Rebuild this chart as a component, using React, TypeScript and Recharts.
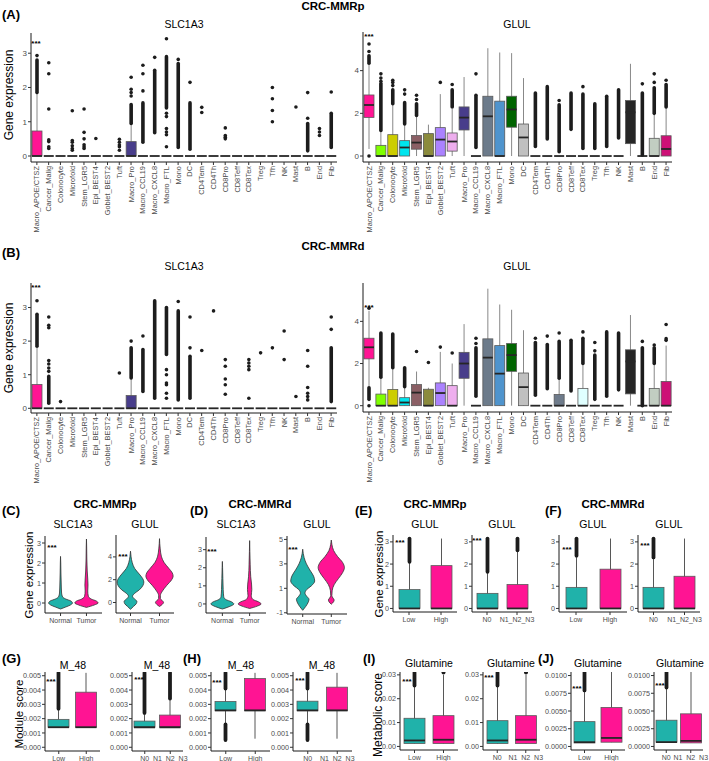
import React from 'react';
import { ComposedChart, Bar, Area, XAxis, YAxis } from 'recharts';

// ---------- data ----------
const cellTypes = ['Macro_APOE/CTSZ', 'Cancer_Malig', 'Colonocyte', 'Microfold', 'Stem_LGR5', 'Epi_BEST4', 'Goblet_BEST2', 'Tuft', 'Macro_Pro', 'Macro_CCL19', 'Macro_CXCL8', 'Macro_FTL', 'Mono', 'DC', 'CD4Tem', 'CD4Th', 'CD8Pro', 'CD8Teff', 'CD8Tex', 'Treg', 'Tfh', 'NK', 'Mast', 'B', 'End', 'Fib'];
const cellColors = ['#FF1493', '#7FFF00', '#CDCD00', '#00E5EE', '#8B5F65', '#8B8B3D', '#AB82FF', '#EEAEEE', '#483D8B', '#8DB6CD', '#6C7B8B', '#4F94CD', '#006400', '#C0C0C0', '#B0C4DE', '#9FB6CD', '#6E7B8B', '#CAE1FF', '#E0FFFF', '#A2B5CD', '#BCD2EE', '#7EC0EE', '#262626', '#778899', '#C1CDC1', '#CD1076'];

// [q1, median, q3, whisker low, whisker high]
type Stat = [number, number, number, number, number];
const Z: Stat = [0, 0, 0, 0, 0];

// (A) SLC1A3, CRC-MMRp
const slcMMRpStats: Stat[] = [[0, 0, 0.73, 0, 1.8], Z, Z, Z, Z, Z, Z, Z, [0, 0, 0.42, 0, 0.95], Z, Z, Z, Z, Z, Z, Z, Z, Z, Z, Z, Z, Z, Z, Z, Z, Z];
const slcMMRpDense = [[[1.85, 2.8]], [], [], [], [], [], [], [], [[0.95, 1.5]], [[0.4, 1.55]], [[0.68, 2.5]], [[1.4, 2.9]], [[0.25, 2.7]], [[0.2, 1.55]], [], [], [], [], [], [], [], [], [], [[0.15, 0.95]], [], [[0.25, 1.25]]];
const slcMMRpPts = [[2.93], [2.72, 2.4, 1.37, 0.47, 0.42, 0.27, 0.22], [], [1.32, 0.45, 0.4, 0.3, 0.22, 0.17], [1.37, 0.69, 0.5, 0.33, 0.27, 0.22], [0.51], [], [0.49, 0.4, 0.32, 0.27, 0.17], [1.75, 1.85, 1.95, 2.3], [1.9, 2.4, 2.65], [2.88], [0.27, 0.62, 0.7, 0.8, 1.15, 1.25, 3.42], [2.82], [2.15], [1.27, 1.42], [], [0.5, 0.55, 0.6, 0.82], [], [], [], [1.0, 1.33, 1.67, 2.0], [], [1.43], [1.1, 1.85], [0.6, 0.7, 0.8], [1.87]];

// (A) GLUL, CRC-MMRp
const glulMMRpStats: Stat[] = [[1.81, 2.39, 2.86, 0.33, 4.3], [0, 0, 0.5, 0, 1.2], [0, 0, 1.0, 0, 2.4], [0, 0.4, 0.72, 0, 1.5], [0.32, 0.63, 0.96, 0, 1.9], [0, 0, 1.05, 0, 1.47], [0, 0.77, 1.33, 0, 2.9], [0.23, 0.68, 1.08, 0, 2.2], [1.22, 1.8, 2.3, 0, 3.7], Z, [0, 1.86, 2.8, 0, 5.05], [0, 0, 2.57, 0, 4.85], [1.35, 2.18, 2.8, 0, 4.82], [0, 0.87, 1.5, 0, 3.65], Z, Z, Z, Z, Z, Z, Z, Z, [0.58, 2.05, 2.6, 0, 4.32], Z, [0, 0, 0.83, 0, 2.0], [0, 0.33, 0.95, 0, 2.3]];
const glulMMRpDense = [[[4.35, 4.7]], [[1.2, 3.4]], [[2.45, 3.1]], [[1.5, 2.5]], [[1.9, 2.45]], [], [], [[2.3, 3.1]], [], [[0.4, 2.85]], [], [], [], [], [[0.45, 2.95]], [[0.8, 3.25]], [[0.2, 2.4]], [[1.25, 2.95]], [[0.35, 2.9]], [[0.35, 2.45]], [[0.45, 2.8]], [[0.85, 3.1]], [], [[0.05, 2.95]], [[2.0, 3.2]], [[2.3, 3.35]]];
const glulMMRpPts = [[0, 4.9, 5.25], [3.5, 3.65, 3.85], [3.3, 3.45, 3.55], [2.9, 3.1], [2.65, 2.85], [], [3.45], [3.35], [], [3.85], [], [], [], [], [], [], [2.6], [], [3.25], [], [], [], [], [3.38], [3.45, 3.85], [3.55]];

// (B) SLC1A3, CRC-MMRd
const slcMMRdStats: Stat[] = [[0, 0, 0.71, 0, 1.8], Z, Z, Z, Z, Z, Z, Z, [0, 0, 0.38, 0, 0.9], Z, Z, Z, Z, Z, Z, Z, Z, Z, Z, Z, Z, Z, Z, Z, Z, Z];
const slcMMRdDense = [[[1.85, 2.8]], [[0.15, 0.95]], [], [], [], [], [], [], [[0.9, 1.8]], [[0.5, 1.75]], [[0.3, 3.2]], [[1.6, 3.0]], [[0.25, 2.9]], [[0.3, 1.55]], [], [], [], [], [], [], [], [], [], [], [], [[0.2, 1.8]]];
const slcMMRdPts = [[3.2], [1.1, 1.2, 1.32, 1.42, 2.4, 2.47, 2.72], [0.2], [], [], [], [], [1.05], [2.0], [2.15], [], [0.3, 0.45, 0.7, 0.75, 1.0, 1.15], [3.18], [1.8, 2.72], [1.72], [2.9], [0.42, 0.7, 0.87, 1.25, 1.45], [], [0.3, 1.15, 1.25, 1.35, 1.45], [1.65], [1.8], [1.45, 2.3], [0.35], [0.25, 0.35, 0.45, 0.62, 1.25, 1.72], [], [2.35, 2.72]];

// (B) GLUL, CRC-MMRd
const glulMMRdStats: Stat[] = [[2.22, 2.77, 3.2, 0.9, 4.5], [0, 0, 0.55, 0, 1.35], [0, 0, 0.77, 0, 1.8], [0, 0.15, 0.38, 0, 0.9], [0, 0.62, 1.0, 0, 1.62], [0, 0, 0.78, 0, 0.85], [0, 0.6, 1.08, 0, 2.55], [0, 0, 0.95, 0, 2.0], [1.3, 2.0, 2.53, 0, 3.87], Z, [0, 2.28, 3.17, 0, 5.55], [0, 1.52, 2.85, 0, 4.8], [1.63, 2.4, 2.95, 0, 4.55], [0, 0.88, 1.55, 0, 3.58], Z, Z, [0, 0, 0.53, 0, 1.3], Z, [0, 0, 0.82, 0, 2.0], Z, Z, Z, [0.56, 2.1, 2.65, 0, 4.3], Z, [0, 0, 0.82, 0, 2.0], [0, 0, 1.15, 0, 2.85]];
const glulMMRdDense = [[[0.3, 0.85]], [[1.35, 3.45]], [[1.8, 3.4]], [[0.9, 1.8]], [], [], [], [], [], [[0.45, 2.75]], [], [], [], [], [[0.5, 3.0]], [[0.8, 2.9]], [[1.3, 3.05]], [[0.7, 3.1]], [[2.0, 3.2]], [[0.3, 2.4]], [[0.45, 3.5]], [[0.75, 3.45]], [], [[0.0, 2.75]], [[2.0, 2.75]], []];
const glulMMRdPts = [[0, 4.62], [], [], [], [2.57], [2.05], [2.78], [2.5], [], [2.95, 3.2], [], [], [], [], [3.2], [3.3], [3.45], [], [3.5], [2.6, 3.0], [], [], [], [3.05], [2.88], [3.1, 3.18, 3.85]];

// (C)/(D) violins: [expression, half width]
const slcMMRpNormal = [[-0.3, 0], [-0.2, 0.2], [-0.1, 0.38], [0, 0.46], [0.1, 0.4], [0.2, 0.2], [0.3, 0.08], [0.5, 0.04], [1.0, 0.025], [1.5, 0.015], [2.0, 0.008], [2.33, 0]];
const slcMMRpTumor = [[-0.22, 0], [-0.1, 0.3], [0, 0.45], [0.1, 0.38], [0.2, 0.18], [0.35, 0.07], [0.6, 0.05], [0.9, 0.06], [1.2, 0.05], [1.6, 0.03], [2.2, 0.015], [2.8, 0.008], [3.2, 0]];
const glulMMRpNormal = [[-0.6, 0], [-0.35, 0.1], [-0.1, 0.2], [0.1, 0.22], [0.3, 0.14], [0.55, 0.07], [0.8, 0.14], [1.1, 0.3], [1.5, 0.43], [1.8, 0.46], [2.1, 0.42], [2.5, 0.3], [3.0, 0.14], [3.5, 0.06], [4.0, 0.02], [4.5, 0]];
const glulMMRpTumor = [[-0.35, 0], [-0.15, 0.1], [0, 0.14], [0.15, 0.1], [0.35, 0.03], [0.6, 0.03], [1.0, 0.1], [1.5, 0.25], [2.0, 0.42], [2.3, 0.47], [2.6, 0.44], [3.0, 0.32], [3.5, 0.16], [4.0, 0.07], [4.7, 0.025], [5.6, 0]];
const slcMMRdNormal = [[-0.28, 0], [-0.15, 0.25], [0, 0.42], [0.12, 0.33], [0.25, 0.12], [0.4, 0.05], [0.8, 0.03], [1.4, 0.018], [2.0, 0.008], [2.35, 0]];
const slcMMRdTumor = [[-0.25, 0], [-0.12, 0.28], [0, 0.42], [0.12, 0.32], [0.25, 0.12], [0.45, 0.06], [0.8, 0.08], [1.1, 0.07], [1.5, 0.04], [2.2, 0.02], [2.9, 0.008], [3.5, 0]];
const glulMMRdNormal = [[-0.8, 0], [-0.5, 0.1], [-0.2, 0.18], [0.1, 0.22], [0.35, 0.14], [0.6, 0.08], [0.9, 0.14], [1.2, 0.3], [1.6, 0.42], [2.0, 0.38], [2.5, 0.25], [3.0, 0.13], [3.5, 0.05], [4.2, 0]];
const glulMMRdTumor = [[-0.3, 0], [-0.1, 0.08], [0.05, 0.1], [0.2, 0.06], [0.4, 0.02], [0.8, 0.03], [1.3, 0.1], [1.8, 0.25], [2.3, 0.4], [2.7, 0.46], [3.1, 0.4], [3.6, 0.22], [4.1, 0.08], [4.6, 0.02], [4.95, 0]];
const violinGroups = ['Normal', 'Tumor'];

// (E)-(J) groups
const lowHigh = ['Low', 'High'];
const nStage = ['N0', 'N1_N2_N3'];
const groupColors = ['#20B2AA', '#FF1493'];

const glulPRiskStats: Stat[] = [[0, 0, 0.85, 0, 2.1], [0, 0, 1.93, 0, 3.15]];
const glulPRiskDense = [[[2.1, 3.15]], []];
const glulPStageStats: Stat[] = [[0, 0, 0.68, 0, 1.65], [0, 0, 1.08, 0, 2.62]];
const glulPStageDense = [[[1.65, 3.15]], [[2.62, 3.15]]];
const glulDRiskStats: Stat[] = [[0, 0, 0.95, 0, 2.38], [0, 0, 1.77, 0, 3.15]];
const glulDRiskDense = [[[2.38, 3.15]], []];
const glulDStageStats: Stat[] = [[0, 0, 0.95, 0, 2.3], [0, 0, 1.45, 0, 3.15]];
const glulDStageDense = [[[2.3, 3.15]], []];

const m48PRiskStats: Stat[] = [[0.0014, 0.0014, 0.00195, 0.0014, 0.0027], [0.0014, 0.0014, 0.00385, 0.0014, 0.0052]];
const m48PRiskDense = [[[0.0027, 0.0052]], []];
const m48PStageStats: Stat[] = [[0.0014, 0.0014, 0.00183, 0.0014, 0.0024], [0.0014, 0.0014, 0.00225, 0.0014, 0.0034]];
const m48PStageDense = [[[0.0024, 0.0052]], [[0.0034, 0.0052]]];
const m48DRiskStats: Stat[] = [[0.00255, 0.00258, 0.0032, 0.0016, 0.0041], [0.00255, 0.00258, 0.0048, 0.0006, 0.0052]];
const m48DRiskDense = [[[0.0005, 0.0016], [0.0041, 0.0052]], []];
const m48DStageStats: Stat[] = [[0.00255, 0.00258, 0.00322, 0.0016, 0.0041], [0.00255, 0.00258, 0.0042, 0.0006, 0.0052]];
const m48DStageDense = [[[0.0005, 0.0016], [0.0041, 0.0052]], []];

const glnPRiskStats: Stat[] = [[0.0012, 0.0025, 0.0118, 0.0012, 0.025], [0.0012, 0.0028, 0.0129, 0.0012, 0.03]];
const glnPStageStats: Stat[] = [[0.0012, 0.0025, 0.0108, 0.0012, 0.025], [0.0012, 0.0028, 0.0129, 0.0012, 0.03]];
const glnPDense = [[[0.0255, 0.031]], []];
const glnPPts = [[], [0.031]];
const glnDRiskStats: Stat[] = [[0.0005, 0.0006, 0.0035, 0.0005, 0.0079], [0.0006, 0.0012, 0.0055, 0.0006, 0.0105]];
const glnDRiskDense = [[[0.0079, 0.0105]], []];
const glnDStageStats: Stat[] = [[0.0006, 0.0006, 0.0037, 0.0006, 0.0083], [0.0005, 0.0008, 0.0046, 0.0005, 0.0105]];
const glnDStageDense = [[[0.0083, 0.0105]], []];

const ticksA = [0, 1, 2, 3];
const ticksGlul = [0, 2, 4];
const ticksD2 = [-1, 0, 1, 2, 3, 4, 5];
const ticksM48 = [0, 0.001, 0.002, 0.003, 0.004, 0.005];
const ticksGlnP = [0, 0.01, 0.02, 0.03];
const ticksGlnD = [0, 0.0025, 0.005, 0.0075, 0.01];

// ---------- drawing helpers ----------
const MT = 6;
const MR = 14;
const AX = '#1a1a1a';
const TXT = '#4d4d4d';

interface Frame { x0: number; y0: number; x1: number; y1: number; padL: number; padB: number }

const frameBox = (f: Frame) => ({
  style: { position: 'absolute' as const, left: f.x0 - f.padL, top: f.y0 - MT },
  width: f.padL + (f.x1 - f.x0) + MR,
  height: MT + (f.y1 - f.y0) + f.padB,
});

const buildRows = (cats: string[], stats: Stat[], dense: number[][][], pts: number[][]) =>
  cats.map((name, i) => {
    const [q1, med, q3, lo, hi] = stats[i];
    const r: any = { name, i, box: [q1, q3], whisker: [lo, hi], med: [med, med] };
    (dense[i] || []).forEach((d, k) => { r['d' + k] = d; });
    (pts[i] || []).forEach((v, k) => { r['p' + k] = [v, v]; });
    return r;
  });

const ok = (p: any, key: string) => p && p.payload && p.payload[key] != null && Number.isFinite(p.y);

const whiskerShape = (color: string) => (p: any) => {
  if (!ok(p, 'whisker') || !(p.height > 0.3)) return <g />;
  const cx = p.x + p.width / 2;
  return <line x1={cx} x2={cx} y1={p.y} y2={p.y + p.height} stroke={color} strokeWidth={0.9} />;
};
const boxShape = (colors: string[]) => (p: any) => {
  if (!ok(p, 'box') || !(p.height > 0.3)) return <g />;
  return <rect x={p.x} y={p.y} width={p.width} height={p.height} fill={colors[p.payload.i]} stroke="#5a5a5a" strokeWidth={0.8} />;
};
const medShape = (p: any) => {
  if (!ok(p, 'med')) return <g />;
  const y = p.y + (p.height || 0) / 2;
  return <line x1={p.x} x2={p.x + p.width} y1={y} y2={y} stroke="#262626" strokeWidth={1.8} />;
};
const denseShape = (key: string, w: number) => (p: any) => {
  if (!ok(p, key)) return <g />;
  const cx = p.x + p.width / 2;
  return <rect x={cx - w / 2} y={p.y - w / 2} width={w} height={(p.height || 0) + w} rx={w / 2} fill="#1c1c1c" />;
};
const dotShape = (key: string, r: number) => (p: any) => {
  if (!ok(p, key)) return <g />;
  return <circle cx={p.x + p.width / 2} cy={p.y + (p.height || 0) / 2} r={r} fill="#1c1c1c" />;
};

const RotTick = (p: any) => (
  <text x={p.x} y={p.y} transform={`rotate(-90 ${p.x} ${p.y})`} textAnchor="end" dy={2.6} fontSize={7.4} fill={TXT}>
    {p.payload.value}
  </text>
);
const FlatTick = (p: any) => (
  <text x={p.x} y={p.y} dy={6} textAnchor="middle" fontSize={7} fill={TXT}>
    {p.label ?? p.payload.value}
  </text>
);

interface BoxProps {
  f: Frame; cats: string[]; stats: Stat[]; dense: number[][][]; pts: number[][]; colors: string[];
  domain: [number, number]; ticks: number[]; fmt?: (v: number) => string; barSize: number;
  rotate?: boolean; tickFs: number; whisker: string; dotR: number; denseW: number;
}

const BoxPanel = ({ f, cats, stats, dense, pts, colors, domain, ticks, fmt, barSize, rotate, tickFs, whisker, dotR, denseW }: BoxProps) => {
  const rows = buildRows(cats, stats, dense, pts);
  const nd = Math.max(0, ...dense.map((d) => d.length));
  const np = Math.max(0, ...pts.map((d) => d.length));
  const fb = frameBox(f);
  return (
    <div style={fb.style}>
      <ComposedChart width={fb.width} height={fb.height} data={rows} margin={{ top: MT, right: MR, left: 0, bottom: 0 }} barSize={barSize} barGap={-barSize} barCategoryGap={0}>
        <XAxis dataKey="name" type="category" interval={0} height={f.padB} tickSize={3} tickMargin={1}
          tick={(p: any) => (rotate ? <RotTick {...p} /> : <FlatTick {...p} />)}
          axisLine={{ stroke: AX }} tickLine={{ stroke: '#333' }} />
        <YAxis type="number" domain={domain} ticks={ticks} allowDataOverflow width={f.padL} tickSize={3} tickMargin={1}
          tickFormatter={fmt} tick={{ fontSize: tickFs, fill: TXT }} axisLine={{ stroke: AX }} tickLine={{ stroke: '#333' }} />
        <Bar dataKey="whisker" barSize={barSize} shape={whiskerShape(whisker)} isAnimationActive={false} />
        <Bar dataKey="box" barSize={barSize} shape={boxShape(colors)} isAnimationActive={false} />
        <Bar dataKey="med" barSize={barSize} shape={medShape} isAnimationActive={false} />
        {Array.from({ length: nd }, (_, k) => (
          <Bar key={'d' + k} dataKey={'d' + k} barSize={barSize} shape={denseShape('d' + k, denseW)} isAnimationActive={false} />
        ))}
        {Array.from({ length: np }, (_, k) => (
          <Bar key={'p' + k} dataKey={'p' + k} barSize={barSize} shape={dotShape('p' + k, dotR)} isAnimationActive={false} />
        ))}
      </ComposedChart>
    </div>
  );
};

interface ViolinProps { f: Frame; normal: number[][]; tumor: number[][]; domain: [number, number]; ticks: number[]; xDomain: [number, number] }

// each violin gets its own layer so that neither needs empty rows
const ViolinPanel = ({ f, normal, tumor, domain, ticks, xDomain }: ViolinProps) => {
  const normRows = normal.map(([v, hw]) => ({ v, r: [1 - hw, 1 + hw] }));
  const tumRows = tumor.map(([v, hw]) => ({ v, r: [2 - hw, 2 + hw] }));
  const fb = frameBox(f);
  const areaStyle = { type: 'monotone' as const, fillOpacity: 1, stroke: '#333', strokeWidth: 0.8, isAnimationActive: false, dot: false, activeDot: false };
  return (
    <div style={fb.style}>
      <ComposedChart layout="vertical" width={fb.width} height={fb.height} data={normRows} margin={{ top: MT, right: MR, left: 0, bottom: 0 }}>
        <XAxis type="number" domain={xDomain} ticks={[1, 2]} allowDataOverflow interval={0} height={f.padB} tickSize={3} tickMargin={1}
          tick={(p: any) => <FlatTick {...p} label={violinGroups[p.payload.value - 1]} />}
          axisLine={{ stroke: AX }} tickLine={{ stroke: '#333' }} />
        <YAxis type="number" dataKey="v" domain={domain} ticks={ticks} allowDataOverflow reversed width={f.padL} tickSize={3} tickMargin={1}
          tick={{ fontSize: 7.2, fill: TXT }} axisLine={{ stroke: AX }} tickLine={{ stroke: '#333' }} />
        <Area dataKey="r" fill={groupColors[0]} {...areaStyle} />
      </ComposedChart>
      <div style={{ position: 'absolute', left: 0, top: 0 }}>
        <ComposedChart layout="vertical" width={fb.width} height={fb.height} data={tumRows} margin={{ top: MT, right: MR, left: f.padL, bottom: f.padB }}>
          <XAxis type="number" domain={xDomain} allowDataOverflow hide />
          <YAxis type="number" dataKey="v" domain={domain} allowDataOverflow reversed hide />
          <Area dataKey="r" fill={groupColors[1]} {...areaStyle} />
        </ComposedChart>
      </div>
    </div>
  );
};

interface TxtProps { x: number; y: number; s: string; size?: number; bold?: boolean; left?: boolean; rot?: boolean }
const Txt = ({ x, y, s, size = 10.5, bold = false, left = false, rot = false }: TxtProps) => (
  <div style={{
    position: 'absolute', left: x, top: y, fontSize: size, fontWeight: bold ? 700 : 400, lineHeight: 1, whiteSpace: 'nowrap', color: '#000',
    transform: `translate(${left ? '0' : '-50%'}, -50%)${rot ? ' rotate(-90deg)' : ''}`,
  }}>{s}</div>
);
const Stars = ({ x, y }: { x: number; y: number }) => <Txt x={x} y={y} s="***" size={8} bold />;

const f3 = (v: number) => v.toFixed(3);
const f2 = (v: number) => v.toFixed(2);
const f4 = (v: number) => v.toFixed(4);

const bigFrame = (x0: number, y0: number, x1: number, y1: number): Frame => ({ x0, y0, x1, y1, padL: 22, padB: 74 });
const smallFrame = (x0: number, y0: number, x1: number, y1: number, padL = 16): Frame => ({ x0, y0, x1, y1, padL, padB: 18 });

export default function App() {
  const big = { barSize: 10, rotate: true, tickFs: 8, dotR: 1.8, denseW: 3.6, whisker: '#7a7a7a' };
  const sm = { barSize: 21, tickFs: 7.2, dotR: 2, denseW: 3.8, whisker: '#444', pts: [[], []], colors: groupColors };
  return (
    <div style={{ position: 'absolute', left: 0, top: 0, width: 709, height: 761, background: '#fff', overflow: 'hidden', fontFamily: '"Liberation Sans", Arial, sans-serif' }}>
      {/* (A) */}
      <Txt x={2} y={14} s="(A)" size={13} bold left />
      <Txt x={333} y={7} s="CRC-MMRp" size={11.5} bold />
      <Txt x={184} y={24} s="SLC1A3" />
      <Txt x={517} y={24} s="GLUL" />
      <Txt x={9} y={95} s="Gene expression" size={12} rot />
      <BoxPanel f={bigFrame(31, 33, 337, 162)} cats={cellTypes} stats={slcMMRpStats} dense={slcMMRpDense} pts={slcMMRpPts} colors={cellColors} domain={[-0.175, 3.59]} ticks={ticksA} {...big} />
      <BoxPanel f={bigFrame(363, 32, 672, 162)} cats={cellTypes} stats={glulMMRpStats} dense={glulMMRpDense} pts={glulMMRpPts} colors={cellColors} domain={[-0.28, 5.81]} ticks={ticksGlul} {...big} />
      <Stars x={36} y={44} />
      <Stars x={369} y={37} />

      {/* (B) */}
      <Txt x={2} y={252} s="(B)" size={13} bold left />
      <Txt x={333} y={247} s="CRC-MMRd" size={11.5} bold />
      <Txt x={184} y={266} s="SLC1A3" />
      <Txt x={517} y={266} s="GLUL" />
      <Txt x={9} y={348} s="Gene expression" size={12} rot />
      <BoxPanel f={bigFrame(31, 283, 337, 413)} cats={cellTypes} stats={slcMMRdStats} dense={slcMMRdDense} pts={slcMMRdPts} colors={cellColors} domain={[-0.14, 3.73]} ticks={ticksA} {...big} />
      <BoxPanel f={bigFrame(363, 283, 672, 412)} cats={cellTypes} stats={glulMMRdStats} dense={glulMMRdDense} pts={glulMMRdPts} colors={cellColors} domain={[-0.3, 5.82]} ticks={ticksGlul} {...big} />
      <Stars x={36} y={288} />
      <Stars x={369} y={308} />

      {/* (C) (D) */}
      <Txt x={2} y={510} s="(C)" size={13} bold left />
      <Txt x={105} y={505} s="CRC-MMRp" size={11.5} bold />
      <Txt x={73} y={524} s="SLC1A3" />
      <Txt x={145} y={524} s="GLUL" />
      <Txt x={30} y={575} s="Gene expression" size={11.5} rot />
      <ViolinPanel f={smallFrame(45, 536, 102, 613, 14)} normal={slcMMRpNormal} tumor={slcMMRpTumor} domain={[-0.5, 3.35]} ticks={ticksA} xDomain={[0.4, 2.6]} />
      <ViolinPanel f={smallFrame(116, 535, 174, 613, 14)} normal={glulMMRpNormal} tumor={glulMMRpTumor} domain={[-0.92, 5.92]} ticks={ticksGlul} xDomain={[0.5, 2.5]} />
      <Stars x={52} y={548} />
      <Stars x={123} y={557} />

      <Txt x={190} y={510} s="(D)" size={13} bold left />
      <Txt x={260} y={505} s="CRC-MMRd" size={11.5} bold />
      <Txt x={236} y={524} s="SLC1A3" />
      <Txt x={317} y={524} s="GLUL" />
      <ViolinPanel f={smallFrame(206, 537, 266, 613, 14)} normal={slcMMRdNormal} tumor={slcMMRdTumor} domain={[-0.5, 3.7]} ticks={ticksA} xDomain={[0.4, 2.6]} />
      <ViolinPanel f={smallFrame(287, 536, 347, 614, 14)} normal={glulMMRdNormal} tumor={glulMMRdTumor} domain={[-1.1, 5.28]} ticks={ticksD2} xDomain={[0.45, 2.55]} />
      <Stars x={212} y={552} />
      <Stars x={293} y={550} />

      {/* (E) (F) */}
      <Txt x={355} y={510} s="(E)" size={13} bold left />
      <Txt x={435} y={505} s="CRC-MMRp" size={11.5} bold />
      <Txt x={425} y={524} s="GLUL" />
      <Txt x={502} y={524} s="GLUL" />
      <Txt x={380} y={574} s="Gene expression" size={11.5} rot />
      <BoxPanel f={smallFrame(393, 535, 457, 612)} cats={lowHigh} stats={glulPRiskStats} dense={glulPRiskDense} domain={[-0.16, 3.31]} ticks={ticksA} {...sm} />
      <BoxPanel f={smallFrame(472, 535, 532, 612)} cats={nStage} stats={glulPStageStats} dense={glulPStageDense} domain={[-0.16, 3.31]} ticks={ticksA} {...sm} />
      <Stars x={400} y={543} />
      <Stars x={477} y={541} />

      <Txt x={545} y={510} s="(F)" size={13} bold left />
      <Txt x={613} y={505} s="CRC-MMRd" size={11.5} bold />
      <Txt x={593} y={524} s="GLUL" />
      <Txt x={669} y={524} s="GLUL" />
      <BoxPanel f={smallFrame(559, 535, 627, 612)} cats={lowHigh} stats={glulDRiskStats} dense={glulDRiskDense} domain={[-0.16, 3.31]} ticks={ticksA} {...sm} />
      <BoxPanel f={smallFrame(638, 535, 700, 612)} cats={nStage} stats={glulDStageStats} dense={glulDStageDense} domain={[-0.16, 3.31]} ticks={ticksA} {...sm} />
      <Stars x={567} y={550} />
      <Stars x={645} y={546} />

      {/* (G) (H) */}
      <Txt x={2} y={658} s="(G)" size={13} bold left />
      <Txt x={73} y={665} s="M_48" />
      <Txt x={157} y={665} s="M_48" />
      <Txt x={20} y={714} s="Module score" size={11.5} rot />
      <BoxPanel f={smallFrame(45, 672, 100, 751, 26)} cats={lowHigh} stats={m48PRiskStats} dense={m48PRiskDense} domain={[-0.00026, 0.00526]} ticks={ticksM48} fmt={f3} {...sm} />
      <BoxPanel f={smallFrame(132, 672, 183, 751, 26)} cats={nStage} stats={m48PStageStats} dense={m48PStageDense} domain={[-0.00026, 0.00526]} ticks={ticksM48} fmt={f3} {...sm} />
      <Stars x={51} y={682} />
      <Stars x={139} y={680} />

      <Txt x={183} y={658} s="(H)" size={13} bold left />
      <Txt x={241} y={665} s="M_48" />
      <Txt x={322} y={665} s="M_48" />
      <BoxPanel f={smallFrame(211, 672, 270, 751, 26)} cats={lowHigh} stats={m48DRiskStats} dense={m48DRiskDense} domain={[-0.00026, 0.00526]} ticks={ticksM48} fmt={f3} {...sm} />
      <BoxPanel f={smallFrame(293, 672, 352, 751, 26)} cats={nStage} stats={m48DStageStats} dense={m48DStageDense} domain={[-0.00026, 0.00526]} ticks={ticksM48} fmt={f3} {...sm} />
      <Stars x={217} y={683} />
      <Stars x={300} y={681} />

      {/* (I) (J) */}
      <Txt x={363} y={658} s="(I)" size={13} bold left />
      <Txt x={429} y={663} s="Glutamine" />
      <Txt x={511} y={663} s="Glutamine" />
      <Txt x={378} y={715} s="Metabolic score" size={12} rot />
      <BoxPanel f={smallFrame(400, 672, 458, 750, 22)} cats={lowHigh} stats={glnPRiskStats} dense={glnPDense} domain={[-0.0015, 0.0312]} ticks={ticksGlnP} fmt={f2} {...sm} pts={glnPPts} />
      <BoxPanel f={smallFrame(483, 672, 540, 750, 22)} cats={nStage} stats={glnPStageStats} dense={glnPDense} domain={[-0.0015, 0.0312]} ticks={ticksGlnP} fmt={f2} {...sm} pts={glnPPts} />
      <Stars x={407} y={682} />
      <Stars x={489} y={678} />

      <Txt x={538} y={658} s="(J)" size={13} bold left />
      <Txt x={598} y={663} s="Glutamine" />
      <Txt x={680} y={663} s="Glutamine" />
      <BoxPanel f={smallFrame(571, 672, 625, 750, 28)} cats={lowHigh} stats={glnDRiskStats} dense={glnDRiskDense} domain={[-0.0005, 0.0105]} ticks={ticksGlnD} fmt={f4} {...sm} />
      <BoxPanel f={smallFrame(654, 672, 703, 750, 28)} cats={nStage} stats={glnDStageStats} dense={glnDStageDense} domain={[-0.0005, 0.0105]} ticks={ticksGlnD} fmt={f4} {...sm} />
      <Stars x={577} y={689} />
      <Stars x={660} y={686} />
    </div>
  );
}
